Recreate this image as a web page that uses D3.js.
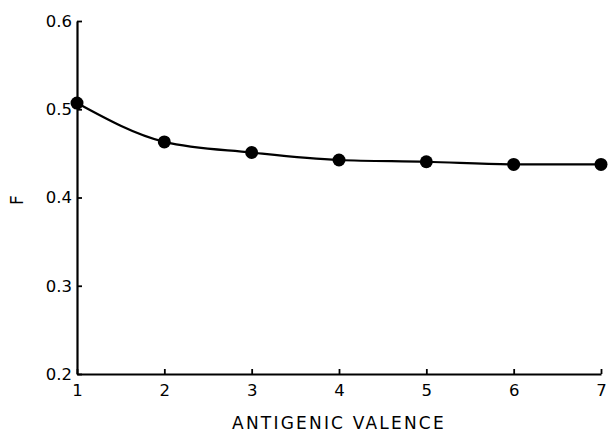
<!DOCTYPE html>
<html><head><meta charset="utf-8">
<script src="https://cdn.jsdelivr.net/npm/d3@7"></script>
<style>body{margin:0;background:#fff}svg{display:block}</style>
</head><body>
<svg id="c" width="609" height="434"></svg>
<script>
const valence = [1, 2, 3, 4, 5, 6, 7];
const F = [0.507, 0.463, 0.451, 0.4425, 0.4405, 0.4375, 0.4375];
const xTicks = [1, 2, 3, 4, 5, 6, 7];
const yTicks = [0.2, 0.3, 0.4, 0.5, 0.6];
const yTickLabels = ["0.2", "0.3", "0.4", "0.5", "0.6"];

const svg = d3.select("#c");
const x = d3.scaleLinear().domain([1, 7]).range([77, 601]);
const y = d3.scaleLinear().domain([0.2, 0.6]).range([374, 21]);
const font = "'DejaVu Sans', sans-serif";

const xAxis = svg.append("g").attr("transform", `translate(0,${y(0.2)})`)
  .call(d3.axisBottom(x).tickValues(xTicks).tickSizeInner(-5).tickSizeOuter(0).tickPadding(12).tickFormat(d3.format("d")));
const yAxis = svg.append("g").attr("transform", `translate(${x(1)},0)`)
  .call(d3.axisLeft(y).tickValues(yTicks).tickSizeInner(-5).tickSizeOuter(0).tickPadding(5).tickFormat((d, i) => yTickLabels[i]));

[xAxis, yAxis].forEach(g => {
  g.select(".domain").attr("stroke", "#000").attr("stroke-width", 2.2);
  g.selectAll(".tick line").attr("stroke", "#000").attr("stroke-width", 1.8);
  g.selectAll(".tick text").attr("fill", "#000").attr("font-family", font).attr("font-size", 16.5);
});
xAxis.selectAll(".tick text").attr("dy", "0.71em").attr("y", 10);

const line = d3.line().x((d, i) => x(valence[i])).y(d => y(d)).curve(d3.curveMonotoneX);
svg.append("path").datum(F).attr("d", line).attr("fill", "none").attr("stroke", "#000").attr("stroke-width", 2.2);

svg.selectAll("circle.pt").data(F).join("circle").attr("class", "pt")
  .attr("cx", (d, i) => x(valence[i])).attr("cy", d => y(d)).attr("r", 6.5).attr("fill", "#000");

svg.append("text").attr("x", 339).attr("y", 429).attr("text-anchor", "middle")
  .attr("font-family", font).attr("font-size", 17).attr("letter-spacing", 2.2).attr("fill", "#000")
  .text("ANTIGENIC VALENCE");
svg.append("text").attr("transform", "translate(23,200) rotate(-90)").attr("text-anchor", "middle")
  .attr("font-family", font).attr("font-size", 17).attr("fill", "#000").text("F");
</script>
</body></html>
